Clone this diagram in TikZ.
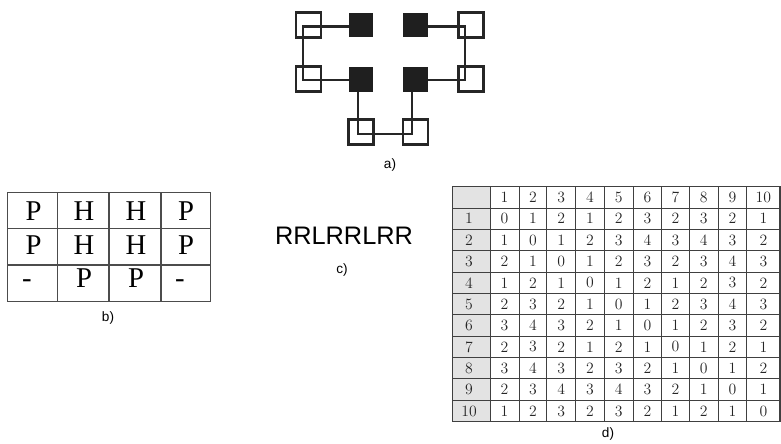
\documentclass[tikz,border=0pt]{standalone}
\usepackage{fontspec}
\newfontfamily\sansf{Liberation Sans}
\newfontfamily\serff{Liberation Serif}
\begin{document}
\begin{tikzpicture}[x=0.75pt,y=-0.75pt,
  chainline/.style={line width=1.7pt, draw=black!85, line join=miter},
  opensq/.style={draw=black!85, line width=1.7pt, minimum size=18.75pt, inner sep=0pt},
  fillsq/.style={fill=black!88, minimum size=18.6pt, inner sep=0pt},
  caption/.style={font=\sansf\fontsize{10.2}{12}\selectfont, inner sep=0pt},
  bletter/.style={font=\serff\fontsize{21.5}{24}\selectfont, inner sep=0pt, anchor=base},
  bgrid/.style={draw=black!70, line width=0.8pt},
  dgrid/.style={draw=black!75, line width=0.75pt},
  dnum/.style={font=\fontsize{11.8}{13}\selectfont, inner sep=0pt, text=black!85},
  seqtext/.style={font=\sansf\fontsize{19}{22}\selectfont, inner sep=0pt}]
\useasboundingbox (0,0) rectangle (781,443);

% ---------- a) ----------
\coordinate (p1) at (358,26.5);
\coordinate (p2) at (302.7,26.5);
\coordinate (p3) at (302.7,80);
\coordinate (p4) at (358,80);
\coordinate (p5) at (358,134);
\coordinate (p6) at (412,134);
\coordinate (p7) at (412,80);
\coordinate (p8) at (465,80);
\coordinate (p9) at (465,26.5);
\coordinate (p10) at (412,26.5);
\draw[chainline] (p1) -- (p2) -- (p3) -- (p4) -- (p5) -- (p6) -- (p7) -- (p8) -- (p9) -- (p10);

\node[opensq] (oTL) at (308.5,25) {};
\node[opensq] (oML) at (308.5,79) {};
\node[opensq] (oTR) at (471,25) {};
\node[opensq] (oMR) at (471,79) {};
\node[opensq] (oBL) at (361,132) {};
\node[opensq] (oBR) at (415.5,132) {};
\node[fillsq] (f1) at (361,25) {};
\node[fillsq] (f2) at (415.5,25) {};
\node[fillsq] (f3) at (361,79.5) {};
\node[fillsq] (f4) at (415.5,79.5) {};
\node[caption] (capa) at (390,165) {a)};

% ---------- b) ----------
\draw[bgrid] (7.5,192.5) rectangle (210.5,301.5);
\draw[bgrid] (7.5,228.5) -- (210.5,228.5);
\draw[bgrid] (7.5,265) -- (210.5,265);
\draw[bgrid] (57.5,192.5) -- (57.5,301.5);
\draw[bgrid] (109,192.5) -- (109,301.5);
\draw[bgrid] (161,192.5) -- (161,301.5);
\node[bletter] (b11) at (33.5,220) {P};
\node[bletter] (b12) at (84,220) {H};
\node[bletter] (b13) at (136,220) {H};
\node[bletter] (b14) at (186,220) {P};
\node[bletter] (b21) at (33.5,254.3) {P};
\node[bletter] (b22) at (84,254.3) {H};
\node[bletter] (b23) at (136,254.3) {H};
\node[bletter] (b24) at (186,254.3) {P};
\node[bletter] (b31) at (27,287.3) {-};
\node[bletter] (b32) at (84,287.3) {P};
\node[bletter] (b33) at (136,287.3) {P};
\node[bletter] (b34) at (180,287.3) {-};
\node[caption] (capb) at (108,318) {b)};

% ---------- c) ----------
\node[seqtext] (seq) at (344,236) {RRLRRLRR};
\node[caption] (capc) at (342,270) {c)};

% ---------- d) ----------
\fill[black!11] (452.3,186.7) rectangle (490,421.7);
\foreach \yy in {208.06,229.42,250.78,272.14,293.5,314.86,336.22,357.58,378.94,400.3}
  \draw[dgrid] (452.3,\yy) -- (780,\yy);
\foreach \xx in {490,519,546.7,575.5,604.2,633,661.7,689.3,718.3,746.7}
  \draw[dgrid] (\xx,186.7) -- (\xx,421.7);
\draw[dgrid, line width=1pt] (452.3,186.7) rectangle (780,421.7);

\foreach \c in {1,...,10} {
  \pgfmathsetmacro{\cx}{{504.5,532.85,561.1,589.85,618.6,647.35,675.5,703.8,732.5,763.35}[\c-1]}
  \node[dnum] (dh-\c) at (\cx,197.4) {\c};
}
\foreach \r/\vals in {1/{0,1,2,1,2,3,2,3,2,1},
                      2/{1,0,1,2,3,4,3,4,3,2},
                      3/{2,1,0,1,2,3,2,3,4,3},
                      4/{1,2,1,0,1,2,1,2,3,2},
                      5/{2,3,2,1,0,1,2,3,4,3},
                      6/{3,4,3,2,1,0,1,2,3,2},
                      7/{2,3,2,1,2,1,0,1,2,1},
                      8/{3,4,3,2,3,2,1,0,1,2},
                      9/{2,3,4,3,4,3,2,1,0,1},
                      10/{1,2,3,2,3,2,1,2,1,0}} {
  \pgfmathsetmacro{\cy}{186.7+21.36*(\r+0.5)}
  \node[dnum] (dr-\r) at (469,\cy) {\r};
  \foreach \v [count=\c] in \vals {
    \pgfmathsetmacro{\cx}{{504.5,532.85,561.1,589.85,618.6,647.35,675.5,703.8,732.5,763.35}[\c-1]}
    \node[dnum] (d-\r-\c) at (\cx,\cy) {\v};
  }
}
\node[caption] (capd) at (608,434) {d)};
\end{tikzpicture}
\end{document}
